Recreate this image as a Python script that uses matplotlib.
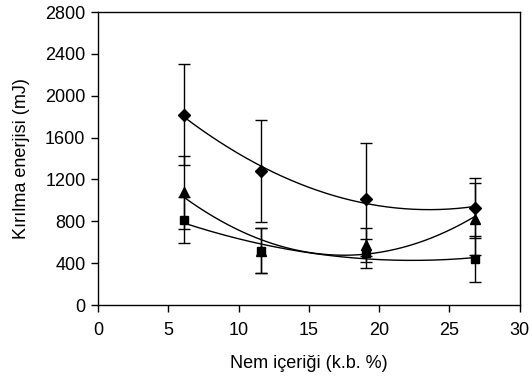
import matplotlib
matplotlib.use("Agg")
import matplotlib.pyplot as plt
import numpy as np

plt.rcParams["font.family"] = ["Liberation Sans", "DejaVu Sans"]

# moisture content (% d.b.)
moisture = [6.1, 11.6, 19.1, 26.8]

# fracture energy (mJ) per series, with standard deviations
diamond_vals = [1820, 1280, 1010, 930]
diamond_err = [480, 485, 540, 287]
triangle_vals = [1077, 520, 575, 819]
triangle_err = [350, 216, 165, 344]
square_vals = [812, 519, 495, 437]
square_err = [216, 216, 140, 220]

x_ticks = [0, 5, 10, 15, 20, 25, 30]
y_ticks = [0, 400, 800, 1200, 1600, 2000, 2400, 2800]

series = [
    (diamond_vals, diamond_err, "D", 6.3),
    (triangle_vals, triangle_err, "^", 7),
    (square_vals, square_err, "s", 5.8),
]

fig = plt.figure(figsize=(5.32, 3.78), dpi=100)
ax = fig.add_axes([0.184, 0.193, 0.793, 0.775])

x = np.array(moisture)
xs = np.linspace(x.min(), x.max(), 200)
for vals, err, marker, ms in series:
    # second order polynomial trendline, as in the original spreadsheet chart
    coef = np.polyfit(x, vals, 2)
    ax.plot(xs, np.polyval(coef, xs), color="black", lw=1.0, zorder=2)
    ax.errorbar(x, vals, yerr=err, fmt=marker, color="black", ms=ms,
                ecolor="black", elinewidth=1.0, capsize=4.5, capthick=1.0, zorder=3)

ax.set_xlim(0, 30)
ax.set_ylim(0, 2800)
ax.set_xticks(x_ticks)
ax.set_yticks(y_ticks)
ax.tick_params(direction="out", length=5, width=1, labelsize=13, color="black")
ax.tick_params(axis="x", pad=7)
ax.tick_params(axis="y", pad=4)
for sp in ax.spines.values():
    sp.set_linewidth(1.0)
    sp.set_color("black")

ax.set_xlabel("Nem içeriği (k.b. %)", fontsize=13, labelpad=12)
ax.set_ylabel("Kırılma enerjisi (mJ)", fontsize=13, labelpad=11)

fig.savefig("out.png", dpi=100)
